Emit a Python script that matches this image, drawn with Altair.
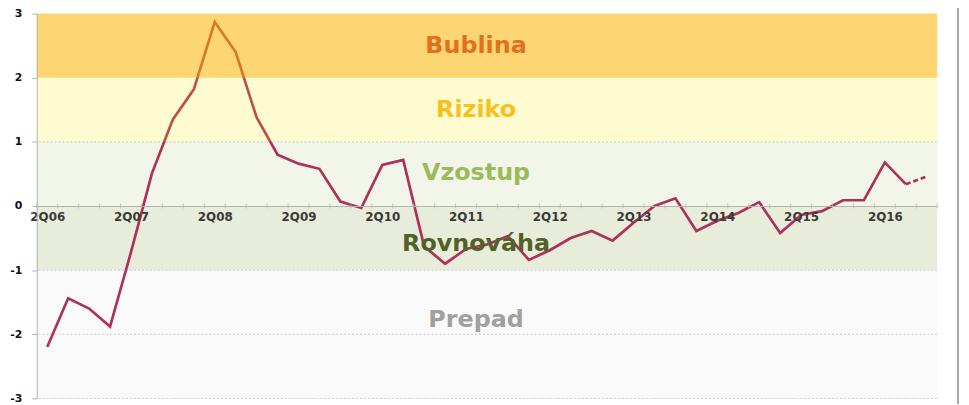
import json
import altair as alt
import pandas as pd

# ---------------- data ----------------
quarters = ["2Q06", "3Q06", "4Q06", "1Q07", "2Q07", "3Q07", "4Q07", "1Q08", "2Q08", "3Q08",
            "4Q08", "1Q09", "2Q09", "3Q09", "4Q09", "1Q10", "2Q10", "3Q10", "4Q10", "1Q11",
            "2Q11", "3Q11", "4Q11", "1Q12", "2Q12", "3Q12", "4Q12", "1Q13", "2Q13", "3Q13",
            "4Q13", "1Q14", "2Q14", "3Q14", "4Q14", "1Q15", "2Q15", "3Q15", "4Q15", "1Q16",
            "2Q16", "3Q16", "4Q16"]
values = [-2.2, -1.44, -1.6, -1.88, -0.72, 0.51, 1.35, 1.82, 2.87, 2.4,
          1.38, 0.8, 0.66, 0.58, 0.07, -0.03, 0.64, 0.72, -0.63, -0.9,
          -0.67, -0.6, -0.47, -0.84, -0.69, -0.5, -0.39, -0.54, -0.26, 0.0,
          0.12, -0.39, -0.23, -0.11, 0.06, -0.42, -0.14, -0.08, 0.09, 0.09,
          0.68, 0.34, 0.46]
n_solid = 42  # last point (4Q16) is joined with a dashed segment

band_names = ["Bublina", "Riziko", "Vzostup", "Rovnováha", "Prepad"]
band_lo = [2, 1, 0, -1, -3]
band_hi = [3, 2, 1, 0, -1]
band_label_y = [2.5, 1.5, 0.52, -0.6, -1.78]
grid_values = [-3, -2, -1, 1]
y_ticks = [-3, -2, -1, 0, 1, 2, 3]
x_label_idx = list(range(0, len(quarters), 4))

# ---------------- styles ----------------
FONT = "DejaVu Sans"
W, H = 908, 388
LINE_COLOR = "#AD3159"
AXIS_GRAY = "#b3b3b3"
upper_names = ["Bublina", "Riziko"]
lower_names = ["Vzostup", "Rovnováha", "Prepad"]
upper_fill = ["#FBB300", "#FFE900"]
upper_opacity = [0.55, 0.18]
lower_fill = ["#F2F5EA", "#E8ECDA", "#FAFAFA"]
text_colors = ["#E2701C", "#F4C21A", "#9BBB59", "#4F6228", "#A0A0A0"]

df = pd.DataFrame({"i": list(range(len(quarters))), "q": quarters, "v": values})
solid = df.iloc[:n_solid]
dashed = df.iloc[n_solid - 1:]
bands = pd.DataFrame({"name": band_names, "lo": band_lo, "hi": band_hi, "ly": band_label_y})
grid = pd.DataFrame({"g": grid_values})
bounds = pd.DataFrame({"b": [k - 0.5 for k in range(len(quarters) + 1)]})

xscale = alt.Scale(domain=[-0.5, len(quarters) - 0.5], nice=False, zero=False)
yscale = alt.Scale(domain=[-3, 3], nice=False, zero=False)
xaxis = alt.Axis(values=x_label_idx,
                 labelExpr=json.dumps(quarters) + "[datum.value]",
                 ticks=False, grid=False, domainColor=AXIS_GRAY, domainWidth=1,
                 labelFont=FONT, labelFontWeight="bold", labelFontSize=12,
                 labelColor="#3a3a3a", labelPadding=6, offset=-H / 2, zindex=1,
                 title=None, labelFlush=False)
yaxis = alt.Axis(values=y_ticks, tickSize=5, tickColor=AXIS_GRAY, domainColor=AXIS_GRAY,
                 grid=False, labelFont=FONT, labelFontWeight="bold", labelFontSize=11,
                 labelColor="#111111", labelPadding=10, title=None, zindex=1,
                 labelExpr="datum.value < 0 ? '-' + abs(datum.value) : '' + datum.value")


def X(field):
    return alt.X(field, scale=xscale, axis=xaxis)


def Y(field):
    return alt.Y(field, scale=yscale, axis=yaxis)


lower_bands = alt.Chart(bands).transform_filter(
    alt.FieldOneOfPredicate(field="name", oneOf=lower_names)
).mark_rect().encode(
    x=alt.value(0), x2=alt.value(W),
    y=Y("lo:Q"), y2="hi:Q",
    color=alt.Color("name:N", scale=alt.Scale(domain=lower_names, range=lower_fill), legend=None),
)

grid_rules = alt.Chart(grid).mark_rule(color="#c9c9c9", strokeDash=[2, 2], strokeWidth=1).encode(
    y=Y("g:Q")
)

line_solid = alt.Chart(solid).mark_line(color=LINE_COLOR, strokeWidth=2.7).encode(
    x=X("i:Q"), y=Y("v:Q")
)
line_dashed = alt.Chart(dashed).mark_line(color=LINE_COLOR, strokeWidth=2.7,
                                          strokeDash=[5, 3]).encode(
    x=X("i:Q"), y=Y("v:Q")
)

upper_bands = alt.Chart(bands).transform_filter(
    alt.FieldOneOfPredicate(field="name", oneOf=upper_names)
).mark_rect().encode(
    x=alt.value(0), x2=alt.value(W),
    y=Y("lo:Q"), y2="hi:Q",
    color=alt.Color("name:N", scale=alt.Scale(domain=upper_names, range=upper_fill), legend=None),
    opacity=alt.Opacity("name:N", scale=alt.Scale(domain=upper_names, range=upper_opacity),
                        legend=None),
)

ticks = alt.Chart(bounds).mark_tick(orient="vertical", size=5, thickness=1,
                                    color=AXIS_GRAY).encode(
    x=X("b:Q"), y=alt.Y(datum=0, scale=yscale, axis=yaxis)
)

labels = alt.Chart(bands).mark_text(font=FONT, fontWeight="bold", fontSize=24,
                                    align="center", baseline="middle").encode(
    x=alt.value(443), y=Y("ly:Q"), text="name:N",
    color=alt.Color("name:N", scale=alt.Scale(domain=band_names, range=text_colors), legend=None),
)

border = alt.Chart(pd.DataFrame({"a": [0]})).mark_rule(color="#a5a5a5", strokeWidth=2).encode(
    x=alt.value(929), y=alt.value(-12), y2=alt.value(396)
)

chart = alt.layer(
    lower_bands, grid_rules, line_solid, line_dashed, upper_bands, ticks, labels, border
).resolve_scale(color="independent", opacity="independent").properties(
    width=W, height=H,
    autosize=alt.AutoSizeParams(type="none"),
    padding={"left": 29, "top": 4, "right": 24, "bottom": 4},
    background="white",
).configure_view(stroke=None)

chart.save("out.html", embed_options={"renderer": "svg", "actions": False})
